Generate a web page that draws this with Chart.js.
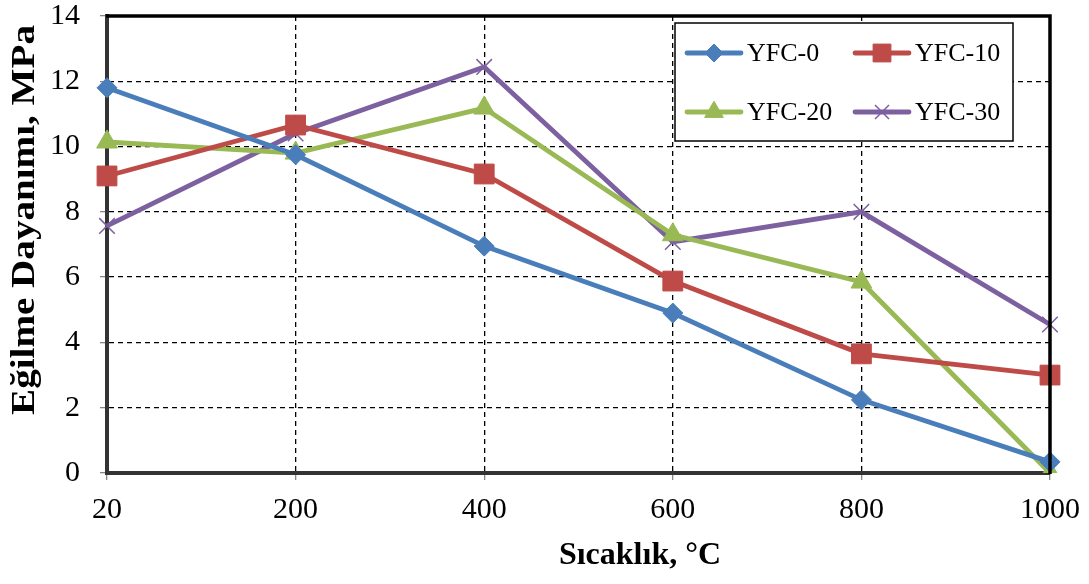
<!DOCTYPE html>
<html>
<head>
<meta charset="utf-8">
<script src="https://cdn.jsdelivr.net/npm/chart.js@4/dist/chart.umd.min.js"></script>
<style>
    html, body { margin: 0; padding: 0; background: #fff; }
    #wrap { width: 1089px; height: 584px; }
</style>
</head>
<body>
<div id="wrap"><canvas id="chart" width="1089" height="584"></canvas></div>
<script>
// Temperature steps and flexural strength per mix
const temperatures = ['20', '200', '400', '600', '800', '1000'];
const yfc0  = [11.8, 9.75, 6.95, 4.9, 2.24, 0.34];
const yfc10 = [9.1, 10.66, 9.16, 5.88, 3.65, 3.0];
const yfc20 = [10.14, 9.8, 11.18, 7.3, 5.85, 0.0];
const yfc30 = [7.57, 10.4, 12.44, 7.08, 8.0, 4.55];
const yTicks = [0, 2, 4, 6, 8, 10, 12, 14];

const xTitle = 'Sıcaklık, °C';
const yTitle = 'Eğilme Dayanımı, MPa';

const FONT = '"Liberation Serif", "Times New Roman", serif';

function series(label, data, color, style, radius, borderW) {
    return {
        label: label,
        data: data,
        borderColor: color,
        backgroundColor: color,
        borderWidth: 4.8,
        pointStyle: style,
        pointRadius: radius,
        pointHoverRadius: radius,
        pointBackgroundColor: color,
        pointBorderColor: color,
        pointBorderWidth: borderW,
        tension: 0
    };
}

// Frame on top/right, axis titles and the legend box inside the plot
const framePlugin = {
    id: 'frame',
    afterDraw(chart) {
        const { ctx, chartArea: a } = chart;
        ctx.save();
        ctx.strokeStyle = '#000';
        ctx.lineWidth = 3.5;
        ctx.beginPath();
        ctx.moveTo(a.left - 1, a.top);
        ctx.lineTo(a.right, a.top);
        ctx.lineTo(a.right, a.bottom + 1);
        ctx.stroke();

        // axis titles
        ctx.fillStyle = '#000';
        ctx.textAlign = 'center';
        ctx.textBaseline = 'middle';
        ctx.font = 'bold 32px ' + FONT;
        ctx.fillText(xTitle, 640, 556);
        ctx.save();
        ctx.translate(25, 220);
        ctx.rotate(-Math.PI / 2);
        ctx.scale(1.15, 1);
        ctx.font = 'bold 34px ' + FONT;
        ctx.fillText(yTitle, 0, 0);
        ctx.restore();

        // legend
        const bx = a.right - 375, by = a.top + 7, bw = 338, bh = 118;
        ctx.fillStyle = '#fff';
        ctx.fillRect(bx, by, bw, bh);
        ctx.strokeStyle = '#000';
        ctx.lineWidth = 1.5;
        ctx.strokeRect(bx, by, bw, bh);

        const cols = [bx + 12, bx + 180];
        const rows = [by + 30, by + 89];
        ctx.font = '26px ' + FONT;
        ctx.textBaseline = 'middle';
        ctx.textAlign = 'left';
        chart.data.datasets.forEach((ds, i) => {
            const x = cols[i % 2], y = rows[Math.floor(i / 2)];
            ctx.strokeStyle = ds.borderColor;
            ctx.lineWidth = 4.8;
            ctx.lineCap = 'round';
            ctx.beginPath();
            ctx.moveTo(x, y);
            ctx.lineTo(x + 54, y);
            ctx.stroke();
            ctx.lineCap = 'butt';
            ctx.fillStyle = ds.borderColor;
            ctx.lineWidth = ds.pointBorderWidth;
            Chart.helpers.drawPoint(ctx, {
                pointStyle: ds.pointStyle,
                radius: ds.pointRadius * 0.9,
                borderWidth: ds.pointBorderWidth
            }, x + 27, y);
            ctx.fillStyle = '#000';
            ctx.fillText(ds.label, x + 60, y + 1);
        });
        ctx.restore();
    }
};

new Chart(document.getElementById('chart'), {
    type: 'line',
    data: {
        labels: temperatures,
        datasets: [
            series('YFC-0', yfc0, '#4a7ebb', 'rectRot', 10, 1),
            series('YFC-10', yfc10, '#be4b48', 'rect', 14, 1),
            series('YFC-20', yfc20, '#98b954', 'triangle', 12, 1),
            series('YFC-30', yfc30, '#7d60a0', 'crossRot', 11, 1.5)
        ]
    },
    options: {
        responsive: false,
        animation: false,
        layout: { padding: { left: 0, right: 39, top: 16, bottom: 0 } },
        plugins: {
            legend: { display: false },
            tooltip: { enabled: false }
        },
        scales: {
            x: {
                offset: false,
                grid: { color: '#000', lineWidth: 1.3, tickColor: '#888', tickLength: 7 },
                border: { display: true, color: '#333', width: 4, dash: [5, 4] },
                ticks: { color: '#000', font: { family: FONT, size: 30 }, padding: 12, maxRotation: 0 },
                afterFit(scale) {
                    scale.height = 111;
                    scale.paddingLeft = 0;
                    scale.paddingRight = 0;
                }
            },
            y: {
                min: 0,
                max: 14,
                afterBuildTicks(scale) { scale.ticks = yTicks.map(v => ({ value: v })); },
                grid: { color: '#000', lineWidth: 1.3, tickColor: '#888', tickLength: 7 },
                border: { display: true, color: '#333', width: 4, dash: [5, 4] },
                ticks: { color: '#000', font: { family: FONT, size: 30 }, padding: 20 },
                afterFit(scale) {
                    scale.width = 107;
                    scale.paddingTop = 0;
                    scale.paddingBottom = 0;
                }
            }
        }
    },
    plugins: [framePlugin]
});
</script>
</body>
</html>
